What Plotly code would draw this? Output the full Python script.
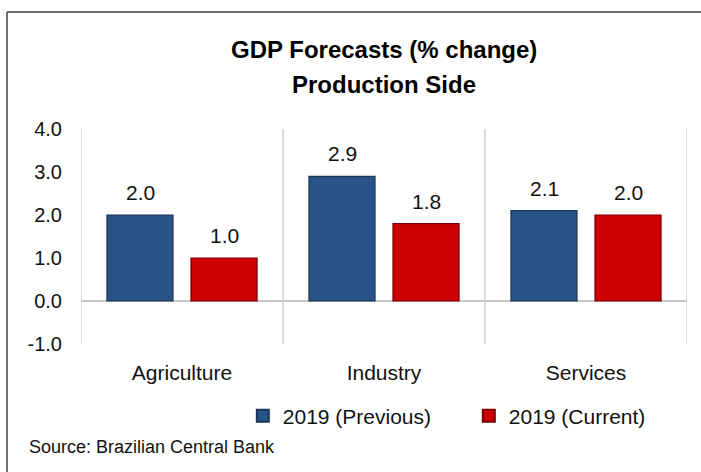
import plotly.graph_objects as go

categories = ["Agriculture", "Industry", "Services"]
previous = [2.0, 2.9, 2.1]
current = [1.0, 1.8, 2.0]
series_names = ["2019 (Previous)", "2019 (Current)"]
y_ticks = [-1.0, 0.0, 1.0, 2.0, 3.0, 4.0]
title_lines = ["GDP Forecasts (% change)", "Production Side"]
source_text = "Source: Brazilian Central Bank"

FONT = "Arial, Liberation Sans, sans-serif"
BLUE = "#295388"
BLUE_EDGE = "#1b3558"
RED = "#cc0000"
RED_EDGE = "#7a0000"

fig = go.Figure()
fig.add_trace(go.Bar(x=categories, y=previous, name=series_names[0],
                     marker=dict(color=BLUE, line=dict(color=BLUE_EDGE, width=1.2))))
fig.add_trace(go.Bar(x=categories, y=current, name=series_names[1],
                     marker=dict(color=RED, line=dict(color=RED_EDGE, width=1.2))))

annotations = []
for vals, xs in ((previous, -42), (current, 42)):
    for c, v in zip(categories, vals):
        annotations.append(dict(x=c, y=v, xref="x", yref="y", text=f"{v:.1f}",
                                showarrow=False, yanchor="bottom", xshift=xs, yshift=9,
                                font=dict(family=FONT, size=21, color="#111111")))

annotations.append(dict(x=0.5, y=1.372, xref="paper", yref="paper", text=title_lines[0],
                        showarrow=False, xanchor="center", yanchor="middle",
                        font=dict(family=FONT, size=24, color="#000000", weight="bold")))
annotations.append(dict(x=0.5, y=1.209, xref="paper", yref="paper", text=title_lines[1],
                        showarrow=False, xanchor="center", yanchor="middle",
                        font=dict(family=FONT, size=24, color="#000000", weight="bold")))
annotations.append(dict(x=-0.0891, y=-0.479, xref="paper", yref="paper", text=source_text,
                        showarrow=False, xanchor="left", yanchor="middle",
                        font=dict(family=FONT, size=18, color="#111111")))

shapes = []
for xb in [-0.5, 0.5, 1.5, 2.5]:
    shapes.append(dict(type="line", xref="x", yref="y", x0=xb, x1=xb, y0=-1, y1=4,
                       line=dict(color="#cfcfcf", width=1.5), layer="below"))
# frame
shapes.append(dict(type="line", xref="paper", yref="paper", x0=-0.1221, x1=1.03,
                   y0=1.5442, y1=1.5442, line=dict(color="#444444", width=1.5)))
shapes.append(dict(type="line", xref="paper", yref="paper", x0=-0.1221, x1=-0.1221,
                   y0=1.5442, y1=-0.62, line=dict(color="#444444", width=1.5)))

fig.update_layout(
    width=701, height=472,
    margin=dict(l=81, r=14, t=129, b=128, autoexpand=False),
    paper_bgcolor="white", plot_bgcolor="white",
    barmode="group", bargap=0.168, bargroupgap=0.214,
    showlegend=True,
    legend=dict(orientation="h", x=0.267, y=-0.335, xanchor="left", yanchor="middle",
                font=dict(family=FONT, size=21, color="#111111"),
                entrywidth=181, entrywidthmode="pixels", itemsizing="constant"),
    annotations=annotations,
    shapes=shapes,
    font=dict(family=FONT, color="#111111"),
)
fig.update_xaxes(range=[-0.5, 2.5], showgrid=False, showline=False, ticks="",
                 tickfont=dict(family=FONT, size=21, color="#111111"),
                 ticklabelstandoff=14, fixedrange=True)
fig.update_yaxes(range=[-1, 4], tickvals=y_ticks, ticktext=[f"{t:.1f}" for t in y_ticks],
                 showgrid=False, showline=False, ticks="",
                 zeroline=True, zerolinecolor="#c8c8c8", zerolinewidth=1.5,
                 tickfont=dict(family=FONT, size=20, color="#111111"),
                 ticklabelstandoff=18, fixedrange=True)

fig.write_html("out.html")
